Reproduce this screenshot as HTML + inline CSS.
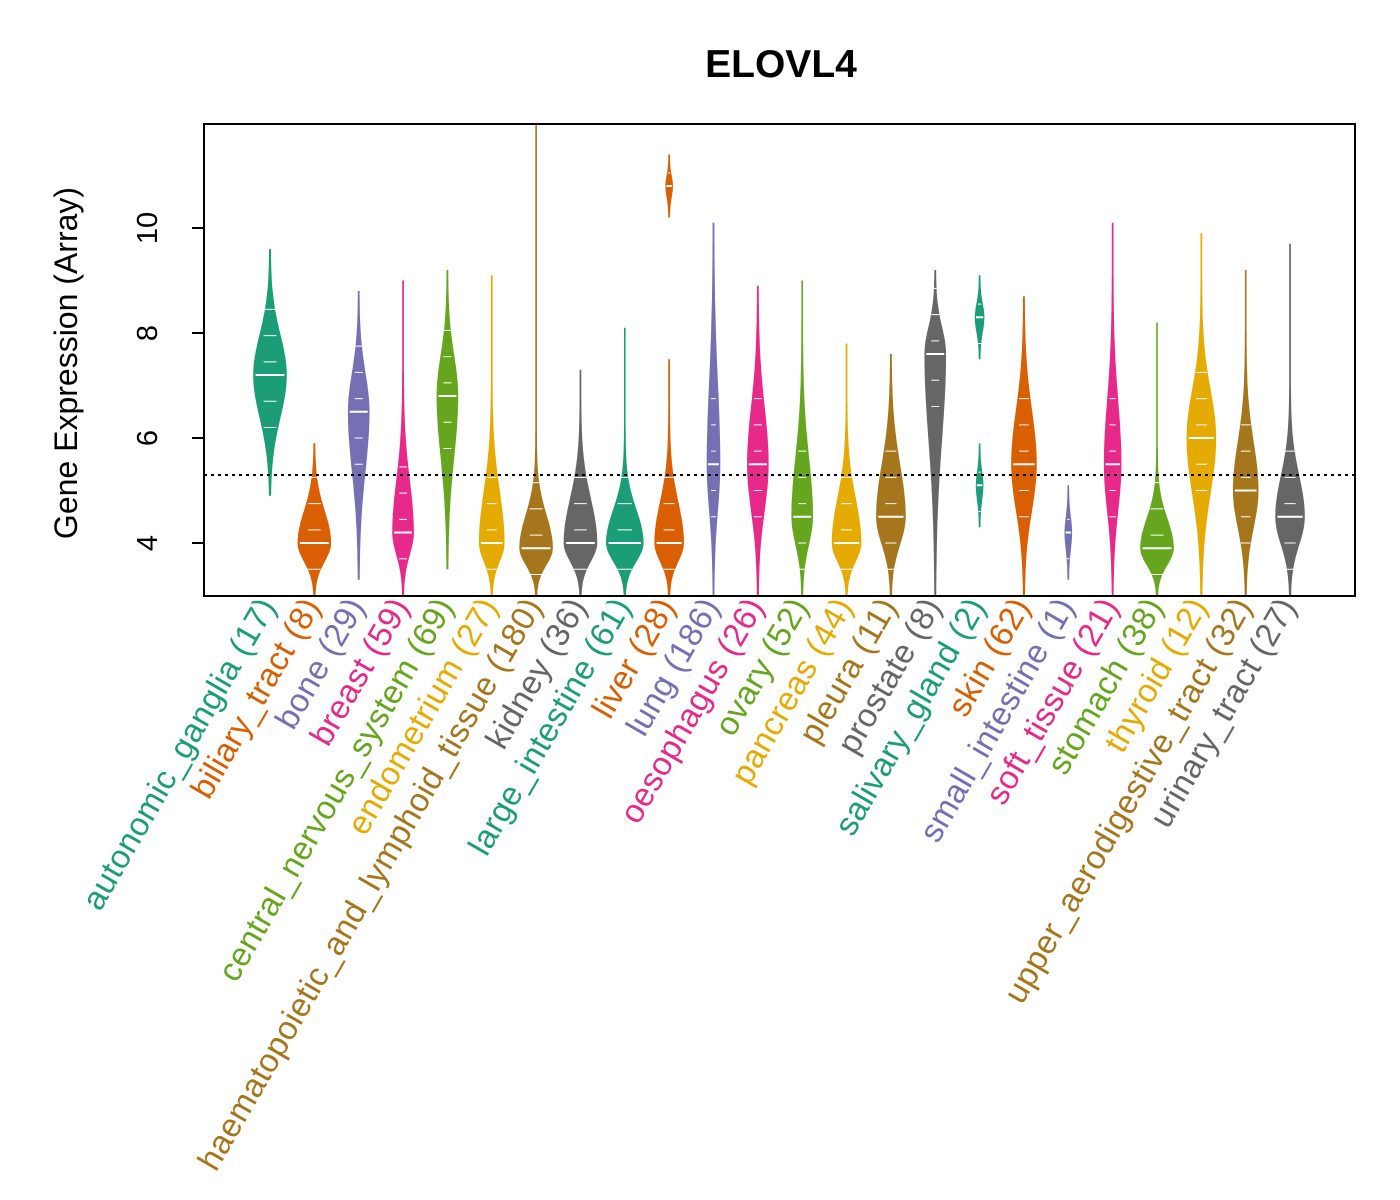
<!DOCTYPE html><html><head><style>body{margin:0;background:#fff}svg{display:block;font-family:"Liberation Sans",sans-serif}</style></head><body>
<svg id="s" width="1400" height="1200" xmlns="http://www.w3.org/2000/svg">
<text x="781" y="77" font-size="39" font-weight="bold" text-anchor="middle">ELOVL4</text>
<text transform="translate(77,363) rotate(-90)" font-size="32" text-anchor="middle">Gene Expression (Array)</text>
<g font-size="29" text-anchor="middle">
<text transform="translate(157,228) rotate(-90)">10</text>
<text transform="translate(157,333) rotate(-90)">8</text>
<text transform="translate(157,438) rotate(-90)">6</text>
<text transform="translate(157,543) rotate(-90)">4</text>
</g>
<g stroke="#000" stroke-width="2"><line x1="192" y1="228" x2="204" y2="228"/><line x1="192" y1="333" x2="204" y2="333"/><line x1="192" y1="438" x2="204" y2="438"/><line x1="192" y1="543" x2="204" y2="543"/><line x1="204" y1="228" x2="204" y2="543"/></g>
<g id="v"></g>
<line x1="204" y1="475" x2="1355" y2="475" stroke="#000" stroke-width="2" stroke-dasharray="3,4"/>
<rect x="204" y="124" width="1151" height="472" fill="none" stroke="#000" stroke-width="2"/>
<g id="l" font-size="33" letter-spacing="0.4"></g>
</svg>
<script>
const C=["#1B9E77","#D95F02","#7570B3","#E7298A","#66A61E","#E6AB02","#A6761D","#666666"];
const D=[["autonomic_ganglia",17,[[4.9,9.6,7.2,16]]],["biliary_tract",8,[[3,5.9,4.0,16]]],["bone",29,[[3.3,8.8,6.5,10]]],["breast",59,[[3,9,4.2,10,1.4]]],["central_nervous_system",69,[[3.5,9.2,6.8,10]]],["endometrium",27,[[3,9.1,4.0,12,1.4]]],["haematopoietic_and_lymphoid_tissue",180,[[3,12,3.9,16,0.9]]],["kidney",36,[[3,7.3,4.0,16,1.2]]],["large_intestine",61,[[3,8.1,4.0,18,0.9]]],["liver",28,[[3,7.5,4.0,14,1.1],[10.2,11.4,10.8,3]]],["lung",186,[[3,10.1,5.5,6,2.2]]],["oesophagus",26,[[3,8.9,5.5,10]]],["ovary",52,[[3,9,4.5,10,1.6]]],["pancreas",44,[[3,7.8,4.0,14,1.2]]],["pleura",11,[[3,7.6,4.5,14]]],["prostate",8,[[3,9.2,7.6,10]]],["salivary_gland",2,[[7.5,9.1,8.3,4],[4.3,5.9,5.1,3]]],["skin",62,[[3,8.7,5.5,12]]],["small_intestine",1,[[3.3,5.1,4.2,3]]],["soft_tissue",21,[[3,10.1,5.5,8,1.7]]],["stomach",38,[[3,8.2,3.9,16,0.8]]],["thyroid",12,[[3,9.9,6.0,14,1.3]]],["upper_aerodigestive_tract",32,[[3,9.2,5.0,12,1.3]]],["urinary_tract",27,[[3,9.7,4.5,14,1.1]]]];
const Y=v=>543-(v-4)*52.5;let vh="",lh="";
D.forEach((d,i)=>{const x=270+i*44.35,c=C[i%8];
d[2].forEach(([a,b,m,h,shx])=>{let L=[],R=[];const sl=(m-a)/2,sh=shx||(b-m)/2.2;
for(let k=0;k<=100;k++){let v=a+(b-a)*k/100;if(v<2.98)continue;let s=v<m?sl:sh;let w=h*Math.exp(-Math.pow((v-m)/s,2))+0.8;L.push((x-w).toFixed(1)+","+Y(v).toFixed(1));R.unshift((x+w).toFixed(1)+","+Y(v).toFixed(1));}
vh+=`<polygon points="${L.concat(R).join(" ")}" fill="${c}"/>`;
vh+=`<line x1="${x-h*0.9}" x2="${x+h*0.9}" y1="${Y(m)}" y2="${Y(m)}" stroke="#fff" stroke-width="2"/>`;
for(let k=1;k<6;k++){let v=m+(k%2?1:-1)*k*0.25;if(v>a+0.2&&v<b-0.2){let w=h*0.4;vh+=`<line x1="${x-w}" x2="${x+w}" y1="${Y(v)}" y2="${Y(v)}" stroke="#fff" stroke-width="1"/>`}}});
lh+=`<text transform="translate(${x+7},606) rotate(-60)" text-anchor="end" fill="${c}">${d[0]} (${d[1]})</text>`;});
document.getElementById("v").innerHTML=vh;document.getElementById("l").innerHTML=lh;
</script></body></html>
